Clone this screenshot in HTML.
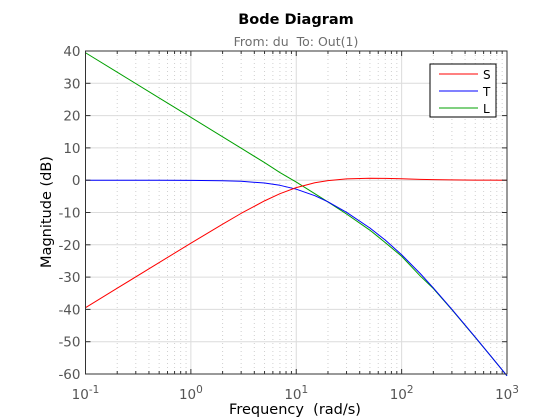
<!DOCTYPE html>
<html><head><meta charset="utf-8"><style>
body{margin:0;background:#fff;}
svg{display:block;font-family:"DejaVu Sans","Liberation Sans",sans-serif;}
text{white-space:pre;}
</style></head><body>
<svg id="chart" width="560" height="420" viewBox="0 0 560 420">
<rect x="0" y="0" width="560" height="420" fill="#fff"/>
<text x="296" y="24" text-anchor="middle" font-size="14.5" font-weight="bold" fill="#000">Bode Diagram</text>
<text x="296" y="46" text-anchor="middle" font-size="12.5" fill="#6e6e6e" xml:space="preserve">From: du  To: Out(1)</text>
<g id="grid"></g>
<g id="series"></g>
<g id="axes"></g>
<text x="295" y="414" text-anchor="middle" font-size="14.5" fill="#000" xml:space="preserve">Frequency  (rad/s)</text>
<text transform="translate(51,212) rotate(-90)" text-anchor="middle" font-size="14.5" fill="#000">Magnitude (dB)</text>
<g>
<rect x="430" y="64" width="66" height="53" fill="#fff" stroke="#000" stroke-width="1"/>
<line x1="439" y1="74" x2="478" y2="74" stroke="#ff0000"/>
<text x="483" y="79" font-size="12">S</text>
<line x1="439" y1="91" x2="478" y2="91" stroke="#0000ff"/>
<text x="483" y="96" font-size="12">T</text>
<line x1="439" y1="108" x2="478" y2="108" stroke="#00a000"/>
<text x="483" y="113" font-size="12">L</text>
</g>
</svg>
<script>
const freqs=[0.1,0.2,0.5,1,2,3,5,7,10,15,20,30,50,70,100,150,200,300,500,700,1000];
const sVals=[-39.46,-33.44,-25.5,-19.5,-13.62,-10.27,-6.4,-4.18,-2.3,-0.8,-0.12,0.4,0.59,0.56,0.43,0.27,0.17,0.09,0.03,0.01,0];
const tVals=[0,0,-0.01,-0.05,-0.16,-0.34,-0.88,-1.58,-2.78,-4.8,-6.7,-9.95,-14.8,-18.55,-23.08,-28.88,-33.36,-39.98,-48.62,-54.4,-60.55];
const lVals=[39.46,33.44,25.48,19.46,13.44,9.91,5.45,2.37,-0.58,-4.16,-6.73,-10.46,-15.47,-19.32,-23.55,-29.64,-33.53,-40.08,-48.67,-54.41,-60.58];
const yTicks=[40,30,20,10,0,-10,-20,-30,-40,-50,-60];
const xDecades=[-1,0,1,2,3];
const NS='http://www.w3.org/2000/svg';
const L=85.5,R=507,T=51,B=374;
const xs=f=>L+(Math.log10(f)+1)/4*(R-L);
const ys=v=>T+(40-v)/100*(B-T);
function mk(tag,attrs,parent){const e=document.createElementNS(NS,tag);for(const k in attrs)e.setAttribute(k,attrs[k]);parent.appendChild(e);return e;}
const grid=document.getElementById('grid'),axes=document.getElementById('axes'),series=document.getElementById('series');
for(let d=-1;d<3;d++)for(let m=2;m<10;m++){const x=xs(m*Math.pow(10,d));
const g=mk('line',{x1:x,x2:x,y1:T,y2:B,stroke:'#d0d0d0','stroke-dasharray':'1,3','stroke-width':1},grid);


mk('line',{x1:x,x2:x,y1:T,y2:T+3,stroke:'#333'},axes);mk('line',{x1:x,x2:x,y1:B,y2:B-3,stroke:'#333'},axes);}
yTicks.forEach(v=>{const y=ys(v);
const g=mk('line',{x1:L,x2:R,y1:y,y2:y,stroke:'#dcdcdc'},grid);


mk('line',{x1:L,x2:L+5,y1:y,y2:y,stroke:'#333'},axes);mk('line',{x1:R,x2:R-5,y1:y,y2:y,stroke:'#333'},axes);
const t=mk('text',{x:L-5,y:y+5,'text-anchor':'end','font-size':13.5,fill:'#555'},axes);t.textContent=v;

});
xDecades.forEach(d=>{const x=xs(Math.pow(10,d));
const g=mk('line',{x1:x,x2:x,y1:T,y2:B,stroke:'#dcdcdc'},grid);


mk('line',{x1:x,x2:x,y1:T,y2:T+5,stroke:'#333'},axes);mk('line',{x1:x,x2:x,y1:B,y2:B-5,stroke:'#333'},axes);
const t=mk('text',{x:x,y:B+25,'text-anchor':'middle','font-size':13.5,fill:'#555'},axes);


const a=mk('tspan',{},t);a.textContent='10';const b=mk('tspan',{dy:-6,'font-size':10.5},t);b.textContent=String(d);});
const box=mk('rect',{x:L,y:T,width:R-L,height:B-T,fill:'none',stroke:'#333'},axes);


[[lVals,'#00a000','series-l'],[tVals,'#0000ff','series-t'],[sVals,'#ff0000','series-s']].forEach(([vals,c,n])=>{
const pts=freqs.map((f,i)=>xs(f).toFixed(2)+','+ys(vals[i]).toFixed(2)).join(' ');
const p=mk('polyline',{points:pts,fill:'none',stroke:c,'stroke-width':1,'stroke-linejoin':'round'},series);

});
</script>
</body></html>
